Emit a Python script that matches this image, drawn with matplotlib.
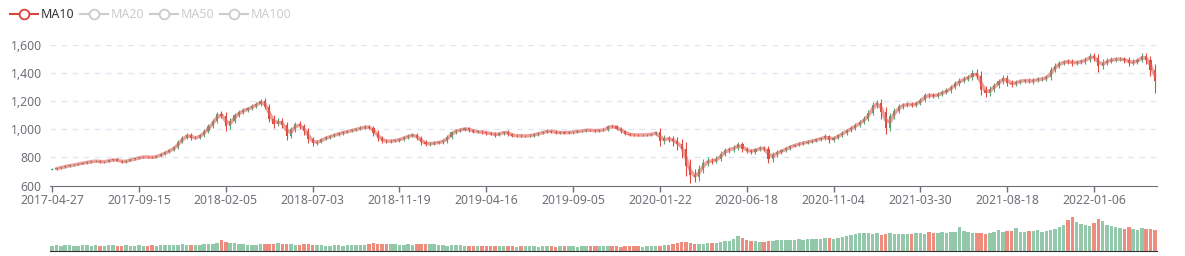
import numpy as np
import matplotlib
matplotlib.use('Agg')
import matplotlib.pyplot as plt
from matplotlib.lines import Line2D

# weekly closes (one value per 5 trading days)
closes = [
    718, 724, 731, 739, 744, 750, 757, 762, 768, 773,
    775, 769, 771, 780, 786, 777, 769, 776, 786, 794,
    801, 805, 803, 800, 811, 824, 838, 853, 872, 911,
    940, 963, 938, 940, 958, 988, 1022, 1060, 1110, 1095,
    1020, 1062, 1098, 1124, 1135, 1148, 1163, 1180, 1200, 1160,
    1075, 1040, 1060, 1030, 955, 1000, 1038, 1020, 985, 930,
    905, 910, 930, 942, 952, 963, 972, 980, 987, 994,
    1003, 1011, 1019, 1010, 975, 940, 918, 914, 918, 922,
    930, 944, 954, 960, 938, 907, 897, 899, 904, 909,
    918, 948, 980, 991, 998, 1006, 995, 983, 983, 978,
    973, 968, 960, 972, 982, 966, 953, 955, 952, 954,
    956, 964, 972, 980, 989, 983, 976, 978, 975, 979,
    982, 986, 991, 995, 992, 990, 993, 997, 1022, 1020,
    1005, 988, 967, 962, 960, 959, 960, 962, 966, 978,
    918, 935, 931, 915, 893, 858, 740, 675, 664, 715,
    760, 778, 775, 790, 827, 850, 858, 870, 893, 860,
    848, 842, 858, 868, 860, 790, 822, 838, 850, 865,
    880, 890, 899, 906, 912, 919, 928, 936, 950, 925,
    940, 958, 975, 995, 1012, 1030, 1052, 1075, 1118, 1175,
    1185, 1120, 1010, 1092, 1130, 1162, 1175, 1176, 1172, 1185,
    1210, 1243, 1240, 1236, 1250, 1262, 1276, 1300, 1326, 1346,
    1360, 1371, 1400, 1380, 1280, 1257, 1285, 1312, 1340, 1366,
    1330, 1322, 1335, 1345, 1346, 1340, 1348, 1354, 1360, 1370,
    1420, 1450, 1468, 1480, 1479, 1471, 1475, 1482, 1495, 1520,
    1505, 1450, 1473, 1485, 1494, 1498, 1498, 1490, 1472, 1478,
    1492, 1520, 1490, 1420, 1345,
]
first_open = 714

# how far each week's high / low reaches past its body
upper_wick = [
    4, 5, 4, 6, 5, 4, 5, 6, 4, 5,
    6, 5, 4, 6, 5, 7, 5, 4, 6, 5,
    5, 6, 4, 5, 6, 7, 8, 6, 9, 10,
    12, 14, 10, 9, 11, 12, 13, 10, 15, 20,
    25, 18, 15, 12, 14, 12, 15, 16, 14, 20,
    22, 25, 18, 20, 24, 15, 14, 18, 20, 22,
    15, 12, 10, 9, 8, 10, 9, 8, 10, 9,
    8, 10, 9, 12, 16, 18, 14, 12, 10, 12,
    10, 9, 12, 14, 16, 18, 14, 12, 10, 11,
    12, 15, 10, 9, 8, 10, 12, 9, 8, 10,
    9, 8, 10, 12, 9, 11, 8, 9, 10, 8,
    9, 8, 7, 9, 10, 8, 9, 8, 7, 9,
    8, 9, 7, 8, 9, 8, 7, 9, 12, 10,
    9, 11, 8, 7, 8, 9, 7, 8, 9, 12,
    30, 22, 18, 25, 30, 40, 55, 50, 45, 35,
    30, 25, 20, 18, 16, 15, 14, 18, 20, 16,
    15, 14, 12, 13, 15, 22, 18, 14, 12, 10,
    10, 9, 8, 9, 10, 9, 8, 10, 14, 12,
    10, 12, 11, 10, 12, 13, 15, 16, 18, 20,
    25, 30, 35, 22, 18, 15, 14, 16, 15, 14,
    15, 16, 14, 18, 15, 16, 17, 15, 18, 20,
    18, 16, 22, 25, 30, 25, 20, 18, 16, 20,
    22, 18, 16, 15, 14, 16, 15, 14, 13, 15,
    20, 18, 16, 14, 18, 20, 16, 15, 18, 20,
    22, 30, 25, 18, 16, 15, 14, 16, 20, 18,
    16, 18, 20, 30, 40,
]
lower_wick = [
    5, 4, 5, 4, 6, 5, 4, 5, 6, 4,
    5, 6, 5, 4, 6, 5, 7, 5, 4, 6,
    6, 5, 6, 7, 5, 6, 7, 8, 8, 9,
    10, 12, 14, 10, 9, 10, 12, 11, 13, 15,
    35, 20, 16, 14, 12, 15, 13, 14, 16, 18,
    25, 28, 20, 22, 30, 20, 16, 18, 22, 25,
    20, 14, 10, 9, 10, 8, 9, 10, 8, 9,
    9, 8, 10, 11, 20, 22, 18, 14, 12, 10,
    12, 10, 11, 12, 15, 20, 16, 12, 11, 10,
    10, 12, 14, 10, 9, 8, 12, 10, 9, 8,
    10, 9, 12, 8, 9, 12, 10, 9, 8, 9,
    8, 9, 8, 7, 9, 10, 8, 9, 8, 7,
    9, 8, 8, 9, 7, 9, 8, 7, 9, 10,
    10, 12, 9, 8, 7, 8, 9, 7, 8, 9,
    35, 20, 22, 30, 40, 60, 70, 55, 40, 30,
    25, 22, 18, 16, 15, 14, 16, 20, 18, 22,
    18, 16, 14, 13, 15, 30, 20, 16, 12, 11,
    10, 9, 10, 8, 9, 10, 9, 8, 10, 20,
    12, 10, 11, 12, 13, 14, 16, 15, 18, 20,
    22, 45, 40, 25, 18, 15, 16, 14, 15, 14,
    14, 16, 18, 15, 16, 14, 15, 17, 16, 18,
    16, 18, 20, 25, 40, 30, 22, 18, 16, 18,
    25, 20, 18, 16, 15, 14, 16, 15, 14, 16,
    18, 16, 15, 14, 18, 20, 16, 15, 16, 18,
    20, 45, 25, 20, 16, 15, 14, 18, 22, 18,
    16, 18, 25, 40, 85,
]

volumes = [
    55, 60, 52, 58, 62, 54, 50, 57, 60, 53,
    58, 52, 55, 61, 56, 50, 54, 59, 52, 55,
    57, 51, 54, 60, 55, 58, 62, 57, 60, 64,
    66, 62, 58, 60, 63, 66, 70, 75, 85, 110,
    95, 85, 78, 72, 68, 64, 62, 60, 66, 72,
    75, 70, 78, 66, 72, 68, 64, 60, 70, 66,
    62, 58, 56, 54, 55, 58, 56, 55, 60, 58,
    62, 57, 60, 66, 85, 72, 70, 66, 68, 72,
    64, 60, 66, 62, 70, 74, 68, 72, 66, 60,
    58, 55, 58, 62, 60, 52, 50, 48, 52, 55,
    50, 48, 46, 50, 52, 49, 47, 45, 48, 46,
    50, 47, 45, 48, 50, 46, 44, 47, 50, 48,
    46, 45, 48, 50, 47, 49, 46, 48, 52, 50,
    47, 45, 48, 46, 49, 47, 45, 50, 48, 52,
    50, 58, 64, 72, 85, 95, 90, 80, 74, 70,
    72, 76, 80, 84, 90, 96, 105, 125, 155, 130,
    108, 100, 96, 92, 95, 100, 104, 110, 106, 112,
    115, 110, 118, 114, 120, 116, 124, 118, 128, 132,
    125, 135, 145, 152, 158, 168, 178, 182, 185, 170,
    178, 165, 172, 180, 175, 168, 175, 170, 168, 180,
    185, 172, 190, 182, 185, 195, 178, 186, 192, 240,
    198, 188, 180, 185, 178, 170, 182, 192, 210, 190,
    196, 202, 228, 186, 192, 196, 202, 215, 192, 205,
    210, 220, 240, 262, 310, 345, 290, 268, 258, 248,
    278, 318, 296, 262, 252, 240, 228, 218, 236, 222,
    212, 226, 216, 222, 210,
]

tick_labels = ['2017-04-27', '2017-09-15', '2018-02-05', '2018-07-03', '2018-11-19',
               '2019-04-16', '2019-09-05', '2020-01-22', '2020-06-18', '2020-11-04',
               '2021-03-30', '2021-08-18', '2022-01-06']
legend_names = ['MA10', 'MA20', 'MA50', 'MA100']

plt.rcParams['font.family'] = ['Noto Sans', 'DejaVu Sans']

W, H = 1185, 256
closes = np.array(closes, dtype=float)
opens = np.concatenate([[first_open], closes[:-1]])
x = np.arange(len(closes))
up = closes >= opens
body_lo = np.minimum(opens, closes)
body_hi = np.maximum(opens, closes)
highs = body_hi + np.array(upper_wick)
lows = body_lo - np.array(lower_wick)

up_color, down_color = '#4fa67a', '#e04a3c'
vol_up, vol_down = '#93c9aa', '#ec8d80'
axis_grey = '#6E7079'
colors = np.where(up, up_color, down_color)

fig = plt.figure(figsize=(W / 100, H / 100), dpi=100)
ax = fig.add_axes([50 / W, 1 - 185.7 / H, 1107 / W, 141 / H])
vax = fig.add_axes([50 / W, 1 - 251 / H, 1107 / W, 38 / H])

# candles
ax.vlines(x, lows, highs, colors=colors, lw=0.8, zorder=3)
ax.bar(x, np.maximum(body_hi - body_lo, 2), bottom=body_lo, width=0.5,
       color=colors, linewidth=0, zorder=3)

# MA10 -> 2 weekly points
ma = (closes[1:] + closes[:-1]) / 2
ax.plot(x[1:], ma, color='#e0625a', alpha=0.6, lw=2.5, zorder=4,
        solid_capstyle='round')

ax.set_xlim(-0.5, len(closes) - 0.5)
ax.set_ylim(600, 1600)
yt = [600, 800, 1000, 1200, 1400, 1600]
ax.set_yticks(yt)
ax.set_yticklabels([f'{v:,}' for v in yt])
for v in yt[1:]:
    ax.axhline(v, color='#E0E6F1', lw=1, ls=(0, (4, 4)), zorder=1)
ax.set_xticks(np.arange(0, len(tick_labels) * 20, 20))
ax.set_xticklabels(tick_labels)
ax.tick_params(axis='y', length=0, pad=6, labelsize=8.8, colors=axis_grey)
ax.tick_params(axis='x', length=4, width=1, pad=2, labelsize=8.8,
               colors=axis_grey)
for s in ['top', 'right', 'left']:
    ax.spines[s].set_visible(False)
ax.spines['bottom'].set_color(axis_grey)

# volume
vax.bar(x, volumes, width=0.8, color=np.where(up, vol_up, vol_down), linewidth=0)
vax.set_xlim(-0.5, len(closes) - 0.5)
vax.set_ylim(0, 380)
vax.set_xticks([])
vax.set_yticks([])
for s in ['top', 'right', 'left']:
    vax.spines[s].set_visible(False)
vax.spines['bottom'].set_color('#333333')

# legend (only MA10 active)
ly = 1 - 14 / H
for i, name in enumerate(legend_names):
    x0 = 10 + 70 * i
    col = '#d9453b' if i == 0 else '#cccccc'
    tcol = '#333333' if i == 0 else '#cccccc'
    fig.add_artist(Line2D([x0 / W, (x0 + 28) / W], [ly, ly], color=col, lw=1.5,
                          transform=fig.transFigure))
    fig.add_artist(Line2D([(x0 + 14) / W], [ly], marker='o', markersize=7,
                          markerfacecolor='white', markeredgecolor=col,
                          markeredgewidth=1.3, transform=fig.transFigure))
    fig.text((x0 + 31) / W, ly, name, color=tcol, fontsize=9, va='center')

fig.savefig('out.png', dpi=100)
